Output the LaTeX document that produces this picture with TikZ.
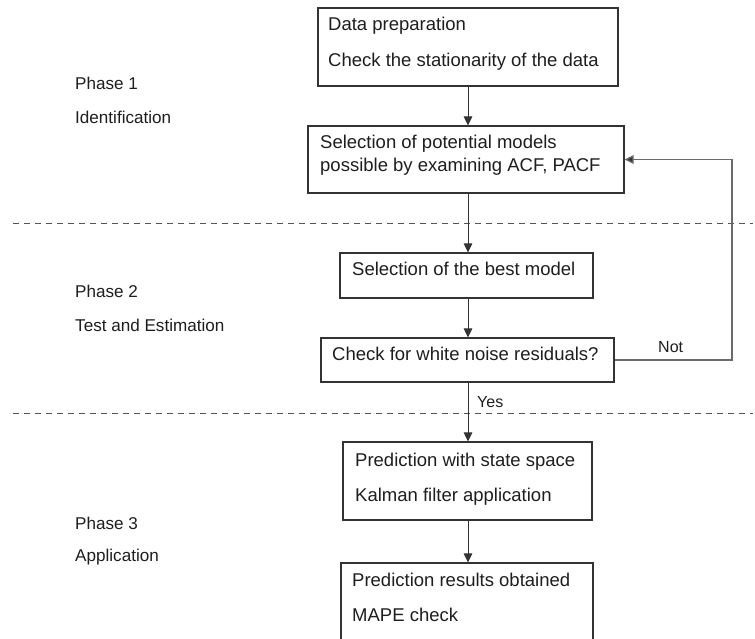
\documentclass[tikz,border=0pt]{standalone}
\usepackage{fontspec}
\setmainfont{Liberation Sans}
\usetikzlibrary{arrows.meta}
\definecolor{linec}{HTML}{333333}
\definecolor{dashc}{HTML}{555555}
\definecolor{fbc}{HTML}{6A6A6A}
\definecolor{textc}{HTML}{1E1E1E}
\begin{document}
\begin{tikzpicture}[x=1pt,y=-1pt,
  box/.style={draw=linec,line width=1.1pt,rectangle,inner sep=0pt},
  boxtxt/.style={anchor=base west,inner sep=0pt,text=textc,font=\fontsize{18.5}{21}\selectfont},
  phasetxt/.style={anchor=base west,inner sep=0pt,text=textc,font=\fontsize{17.1}{20}\selectfont},
  edgetxt/.style={anchor=base west,inner sep=0pt,text=textc,font=\fontsize{16}{18}\selectfont},
  arr/.style={draw=linec,line width=1pt,-{Triangle[length=9pt,width=8.5pt]}},
  fbarr/.style={draw=fbc,line width=1.3pt,-{Triangle[length=9pt,width=8.5pt,fill=linec]}},
  dashline/.style={draw=dashc,line width=1pt,dash pattern=on 6pt off 5pt}]
\clip (0,0) rectangle (755,639);
\fill[white] (0,0) rectangle (755,639);

% boxes
\node[box,minimum width=300pt,minimum height=78pt] (b1) at (468,47) {};
\node[box,minimum width=316pt,minimum height=67pt] (b2) at (466,159.5) {};
\node[box,minimum width=253pt,minimum height=45pt] (b3) at (466.5,275.5) {};
\node[box,minimum width=293pt,minimum height=44pt] (b4) at (467.5,360) {};
\node[box,minimum width=249pt,minimum height=78pt] (b5) at (467.5,481) {};
\node[box,minimum width=252pt,minimum height=100pt] (b6) at (467,613) {};

% box texts
\node[boxtxt] (t1a) at (328,31) {Data preparation};
\node[boxtxt] (t1b) at (328,67) {Check the stationarity of the data};
\node[boxtxt] (t2a) at (320,149) {Selection of potential models};
\node[boxtxt] (t2b) at (320,171.5) {possible by examining ACF, PACF};
\node[boxtxt] (t3) at (352,276) {Selection of the best model};
\node[boxtxt] (t4) at (332,360.5) {Check for white noise residuals?};
\node[boxtxt] (t5a) at (355,466) {Prediction with state space};
\node[boxtxt] (t5b) at (355,501.5) {Kalman filter application};
\node[boxtxt] (t6a) at (352,586.5) {Prediction results obtained};
\node[boxtxt] (t6b) at (352,621.5) {MAPE check};

% phase labels
\node[phasetxt] (p1a) at (75,89.3) {Phase 1};
\node[phasetxt] (p1b) at (75,123.3) {Identification};
\node[phasetxt] (p2a) at (75,297.3) {Phase 2};
\node[phasetxt] (p2b) at (75,331) {Test and Estimation};
\node[phasetxt] (p3a) at (75,529) {Phase 3};
\node[phasetxt] (p3b) at (75,561) {Application};

% dashed separators
\draw[dashline] (13,224) -- (753,224);
\draw[dashline] (13,413) -- (753,413);

% main connectors
\coordinate (sp) at (468,0);
\draw[arr] (b1.south -| sp) -- (b2.north -| sp);
\draw[arr] (b2.south -| sp) -- (b3.north -| sp);
\draw[arr] (b3.south -| sp) -- (b4.north -| sp);
\draw[arr] (b4.south -| sp) -- (b5.north -| sp);
\draw[arr] (b5.south -| sp) -- (b6.north -| sp);

% feedback connector
\coordinate (fb) at (732,0);
\draw[fbarr] (b4.east) -- (b4.east -| fb) |- (b2.east);

% connector labels
\node[edgetxt] (lnot) at (658,352.3) {Not};
\node[edgetxt] (lyes) at (477,407.3) {Yes};
\end{tikzpicture}
\end{document}
